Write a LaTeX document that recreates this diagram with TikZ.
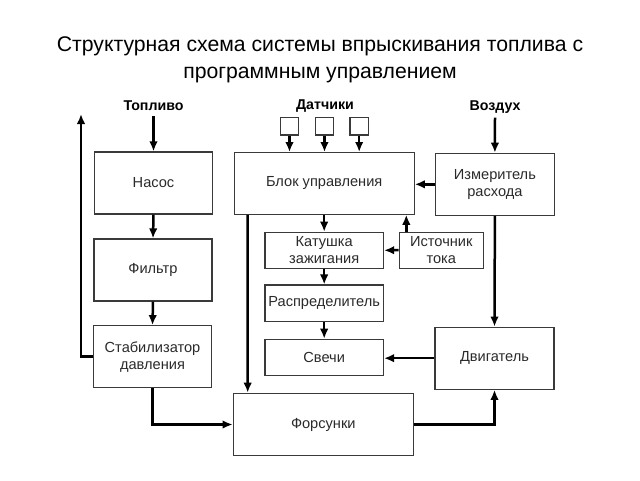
\documentclass[tikz,border=0pt]{standalone}
\usepackage{fontspec}
\setmainfont{Liberation Sans}
\usetikzlibrary{arrows.meta}
\definecolor{txt}{HTML}{2A2A2A}
\definecolor{edge}{HTML}{3A3A3A}
\begin{document}
\begin{tikzpicture}[x=1pt,y=-1pt,
  blk/.style={draw=edge, line width=1.2pt, inner sep=0pt, align=center, text=txt,
    font=\fontsize{14.6}{17}\selectfont},
  sens/.style={draw=edge, line width=1.2pt, inner sep=0pt, minimum width=18.5pt, minimum height=17.7pt},
  lbl/.style={font=\fontsize{14.2}{16}\selectfont\bfseries, inner sep=1pt},
  arr/.style={line width=2.5pt, -{Latex[length=10pt,width=8.5pt]}}]
\useasboundingbox (0,0) rectangle (640,480);
\node[font=\fontsize{21.2}{26.5}\selectfont, align=center] (title) at (320,60)
  {Структурная схема системы впрыскивания топлива с\\программным управлением};

\node[lbl] (lfuel) at (153.5,106) {Топливо};
\node[lbl] (lsens) at (325,106) {Датчики};
\node[lbl] (lair) at (495,107) {Воздух};

\node[blk, minimum width=118pt, minimum height=62pt] (nasos) at (153.5,183) {Насос};
\node[blk, minimum width=118pt, minimum height=62pt] (filtr) at (153,270) {Фильтр};
\node[blk, minimum width=118.5pt, minimum height=62pt] (stab) at (152.5,356.7) {Стабилизатор\\давления};
\node[blk, minimum width=180pt, minimum height=61.5pt] (blok) at (324.2,183.4) {Блок управления};
\node[blk, minimum width=118.5pt, minimum height=62pt] (izm) at (494.9,184.3) {Измеритель\\расхода};
\node[blk, minimum width=118.5pt, minimum height=36pt] (kat) at (324.2,250.3) {Катушка\\зажигания};
\node[blk, minimum width=84pt, minimum height=36pt] (ist) at (441.3,250.2) {Источник\\тока};
\node[blk, minimum width=118.5pt, minimum height=36.7pt] (rasp) at (324.2,303.4) {Распределитель};
\node[blk, minimum width=118.5pt, minimum height=36.4pt] (svechi) at (324.2,357.5) {Свечи};
\node[blk, minimum width=119pt, minimum height=62pt] (dvig) at (494.5,358.2) {Двигатель};
\node[blk, minimum width=180pt, minimum height=62.5pt] (fors) at (323.3,424.5) {Форсунки};

\node[sens] (s1) at (289.5,126.2) {};
\node[sens] (s2) at (324.5,126.2) {};
\node[sens] (s3) at (359.2,126.2) {};

\coordinate (ret) at (81,114);

\draw[arr] (lfuel.south) ++(0,4) -- (nasos.north);
\draw[arr] (nasos.south) -- (filtr.north);
\draw[arr] (filtr.south) -- (stab.north);
\draw[arr] (stab.west) -| (ret);
\draw[arr] (stab.south) |- (fors.west);
\draw[arr] ([xshift=14pt]blok.south west) -- ([xshift=15pt]fors.north west);
\draw[arr] (blok.south) -- (kat.north);
\draw[arr] ([xshift=-35pt]ist.north) -- ([xshift=-35pt]ist.north |- blok.south);
\draw[arr] (ist.west) -- (kat.east);
\draw[arr] (kat.south) -- (rasp.north);
\draw[arr] (rasp.south) -- (svechi.north);
\draw[arr] (dvig.west) -- (dvig.west -| svechi.east);
\draw[arr] (izm.west) -- (izm.west -| blok.east);
\draw[arr] (lair.south) ++(0,3) -- (izm.north);
\draw[arr] (izm.south) -- (dvig.north);
\draw[arr] (fors.east) -| (dvig.south);
\draw[arr] (s1.south) -- (s1.south |- blok.north);
\draw[arr] (s2.south) -- (s2.south |- blok.north);
\draw[arr] (s3.south) -- (s3.south |- blok.north);
\end{tikzpicture}
\end{document}
